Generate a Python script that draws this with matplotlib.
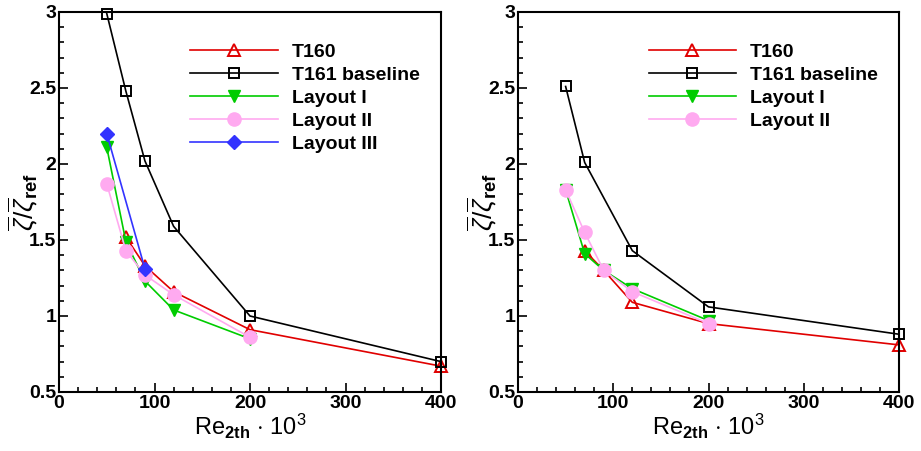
import matplotlib
matplotlib.use("Agg")
import matplotlib.pyplot as plt
from matplotlib.ticker import MultipleLocator, FuncFormatter

plt.rcParams['font.family'] = ['Liberation Sans', 'DejaVu Sans']
plt.rcParams['mathtext.fontset'] = 'custom'
plt.rcParams['mathtext.rm'] = 'Liberation Sans'
plt.rcParams['mathtext.it'] = 'Liberation Sans:italic'
plt.rcParams['mathtext.bf'] = 'Liberation Sans:bold'

# ---- Data: left panel ----
L_t160_x = [70, 90, 120, 200, 400]
L_t160_y = [1.52, 1.33, 1.16, 0.91, 0.67]
L_t161_x = [50, 70, 90, 120, 200, 400]
L_t161_y = [2.99, 2.48, 2.02, 1.59, 1.00, 0.70]
L_lay1_x = [50, 70, 90, 120, 200]
L_lay1_y = [2.11, 1.49, 1.23, 1.04, 0.85]
L_lay2_x = [50, 70, 90, 120, 200]
L_lay2_y = [1.87, 1.43, 1.27, 1.14, 0.86]
L_lay3_x = [50, 90]
L_lay3_y = [2.20, 1.31]

# ---- Data: right panel ----
R_t160_x = [70, 90, 120, 200, 400]
R_t160_y = [1.43, 1.30, 1.09, 0.95, 0.81]
R_t161_x = [50, 70, 120, 200, 400]
R_t161_y = [2.51, 2.01, 1.43, 1.06, 0.88]
R_lay1_x = [50, 70, 90, 120, 200]
R_lay1_y = [1.83, 1.41, 1.30, 1.18, 0.97]
R_lay2_x = [50, 70, 90, 120, 200]
R_lay2_y = [1.83, 1.55, 1.30, 1.16, 0.95]

labels = ['T160', 'T161 baseline', 'Layout I', 'Layout II', 'Layout III']

RED = '#e00000'
BLACK = '#000000'
GREEN = '#00cc00'
PINK = '#ffaaf0'
BLUE = '#3333ff'

fig = plt.figure(figsize=(9.21, 4.51), dpi=100)
axL = fig.add_axes([59/921, 1-392/451, (441-59)/921, (392-12)/451])
axR = fig.add_axes([518/921, 1-392/451, (899-518)/921, (392-12)/451])

lw = 1.2

def draw(ax, series):
    for (x, y, kw) in series:
        ax.plot(x, y, lw=lw, clip_on=False, **kw)

draw(axL, [
    (L_t160_x, L_t160_y, dict(color=RED, marker='^', ms=8, mfc='none', mec=RED, mew=1.4, label=labels[0])),
    (L_t161_x, L_t161_y, dict(color=BLACK, marker='s', ms=7, mfc='none', mec=BLACK, mew=1.4, label=labels[1])),
    (L_lay1_x, L_lay1_y, dict(color=GREEN, marker='v', ms=8, mfc=GREEN, mec=GREEN, label=labels[2])),
    (L_lay2_x, L_lay2_y, dict(color=PINK, marker='o', ms=9.5, mfc=PINK, mec=PINK, label=labels[3])),
    (L_lay3_x, L_lay3_y, dict(color=BLUE, marker='D', ms=7, mfc=BLUE, mec=BLUE, label=labels[4])),
])
draw(axR, [
    (R_t160_x, R_t160_y, dict(color=RED, marker='^', ms=8, mfc='none', mec=RED, mew=1.4, label=labels[0])),
    (R_t161_x, R_t161_y, dict(color=BLACK, marker='s', ms=7, mfc='none', mec=BLACK, mew=1.4, label=labels[1])),
    (R_lay1_x, R_lay1_y, dict(color=GREEN, marker='v', ms=8, mfc=GREEN, mec=GREEN, label=labels[2])),
    (R_lay2_x, R_lay2_y, dict(color=PINK, marker='o', ms=9.5, mfc=PINK, mec=PINK, label=labels[3])),
])

def fmt(v, pos):
    return ('%g' % v)

for ax in (axL, axR):
    ax.set_xlim(0, 400)
    ax.set_ylim(0.5, 3)
    ax.xaxis.set_major_locator(MultipleLocator(100))
    ax.xaxis.set_minor_locator(MultipleLocator(20))
    ax.yaxis.set_major_locator(MultipleLocator(0.5))
    ax.yaxis.set_minor_locator(MultipleLocator(0.1))
    ax.yaxis.set_major_formatter(FuncFormatter(fmt))
    ax.tick_params(which='both', direction='in', top=False, right=False, width=1.2)
    ax.tick_params(which='major', length=6.5, labelsize=14, pad=2)
    ax.tick_params(which='minor', length=3.5)
    for lab in ax.get_xticklabels() + ax.get_yticklabels():
        lab.set_fontweight('bold')
    for sp in ax.spines.values():
        sp.set_linewidth(1.5)
    ax.set_xlabel(r'Re$_{\mathbf{2th}}$ $\cdot$ 10$^3$', fontsize=17, labelpad=0)
    ax.set_ylabel(r'$\overline{\zeta}/\overline{\zeta}_{\mathbf{ref}}$', fontsize=19)
    ax.yaxis.set_label_coords(-0.05, 0.5)
    leg = ax.legend(loc='upper left', bbox_to_anchor=(0.343, 0.918), frameon=False,
                    fontsize=14, handlelength=4.5, handletextpad=0.72,
                    labelspacing=0.28, borderaxespad=0, borderpad=0)
    for t in leg.get_texts():
        t.set_fontweight('bold')

fig.savefig('out.png', dpi=100)
